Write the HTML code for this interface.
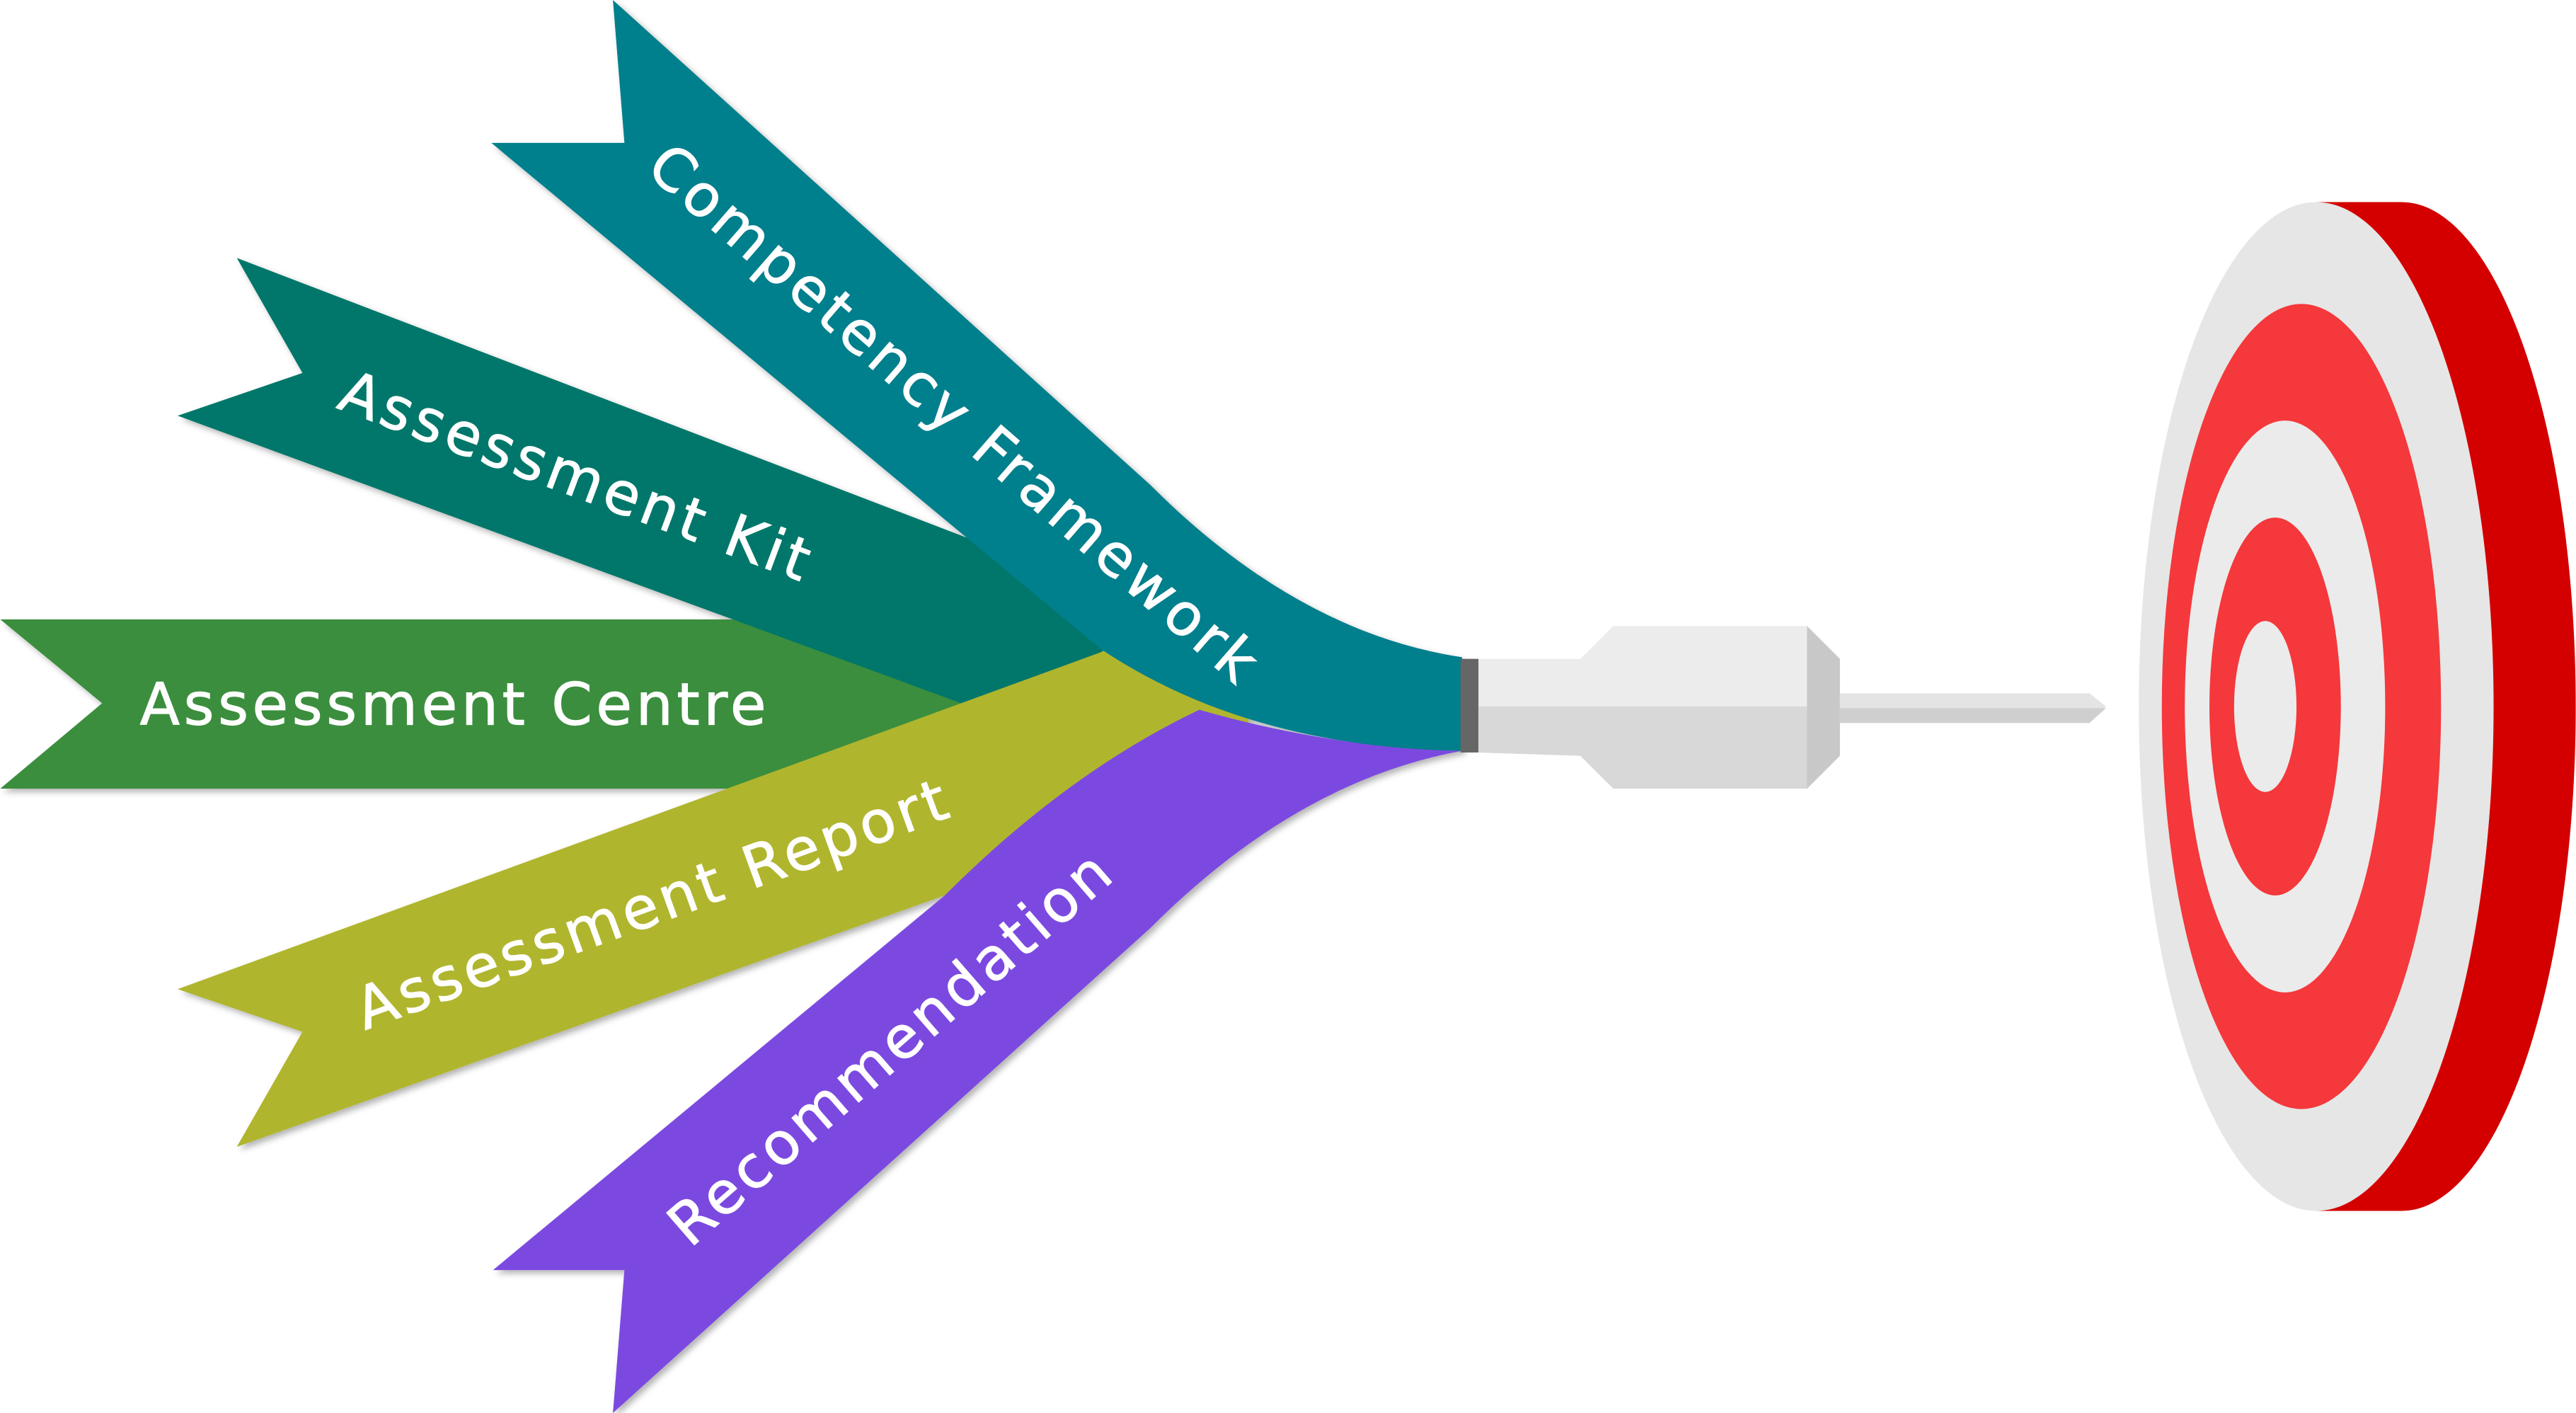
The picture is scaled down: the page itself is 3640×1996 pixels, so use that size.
<!DOCTYPE html>
<html><head><style>html,body{margin:0;padding:0;background:#fff}svg{display:block}</style></head>
<body>
<svg width="3640" height="1996" viewBox="0 0 1568 860" xmlns="http://www.w3.org/2000/svg">
<defs>
<filter id="sh" x="-5%" y="-5%" width="110%" height="110%"><feDropShadow dx="2" dy="2" stdDeviation="2" flood-opacity="0.3"/></filter>
</defs>
<g filter="url(#sh)">
<path d="M0,377 L600,377 L600,480 L0,480 L62,428 Z" fill="#3A8E3D"/>
<path d="M144,157 L700,370 L700,445 L585,428 L108,253 L184,227 Z" fill="#06776A"/>
<path d="M108,602 L670,397 L700,380 L760,420 L760,452 L575,545 L144,698 L184,628 Z" fill="#B0B52D"/>
<path d="M300,773 L575,545 Q650,470 730,432 Q810,455 890,457 Q790,475 700,565 L373,860 L380,773 Z" fill="#7B4AE0"/>
<path d="M373,0 L700,295 Q790,385 890,400 L890,457 Q760,455 670,395 L299,87 L380,87 Z" fill="#007F8C"/>
</g>
<rect x="889" y="401" width="11" height="57" fill="#666"/>
<path d="M900,401 L962,401 L982,381 L1100,381 L1120,401 L1120,460 L1100,480 L982,480 L962,460 L900,458 Z" fill="#ececec"/>
<path d="M900,430 L1100,430 L1120,401 L1120,460 L1100,480 L982,480 L962,460 L900,458 Z" fill="#d8d8d8"/>
<path d="M1100,381 L1120,401 L1120,460 L1100,480 Z" fill="#c8c8c8"/>
<path d="M1120,422 L1272,422 L1282,430 L1272,440 L1120,440 Z" fill="#e4e4e4"/>
<path d="M1120,431 L1282,431 L1272,440 L1120,440 Z" fill="#cfcfcf"/>
<ellipse cx="1462" cy="430" rx="106" ry="307" fill="#D40000"/>
<rect x="1410" y="123" width="52" height="614" fill="#D40000"/>
<ellipse cx="1410" cy="430" rx="108" ry="307" fill="#e6e6e6"/>
<ellipse cx="1401" cy="430" rx="85" ry="245" fill="#F5383B"/>
<ellipse cx="1391" cy="430" rx="61" ry="174" fill="#ebebeb"/>
<ellipse cx="1385" cy="430" rx="40" ry="115" fill="#F5383B"/>
<ellipse cx="1379" cy="430" rx="19" ry="52" fill="#ebebeb"/>
<g font-family="DejaVu Sans, Verdana, sans-serif" font-size="35.5" fill="#fff" letter-spacing="2.4" stroke="#fff" stroke-width="0.5">
<text transform="translate(392,104) rotate(41)">Competency Framework</text>
<text transform="translate(204,248) rotate(20.5)">Assessment Kit</text>
<text x="85" y="441">Assessment Centre</text>
<text transform="translate(222,627) rotate(-20)">Assessment Report</text>
<text transform="translate(420,760) rotate(-41)">Recommendation</text>
</g>
</svg>
</body></html>
